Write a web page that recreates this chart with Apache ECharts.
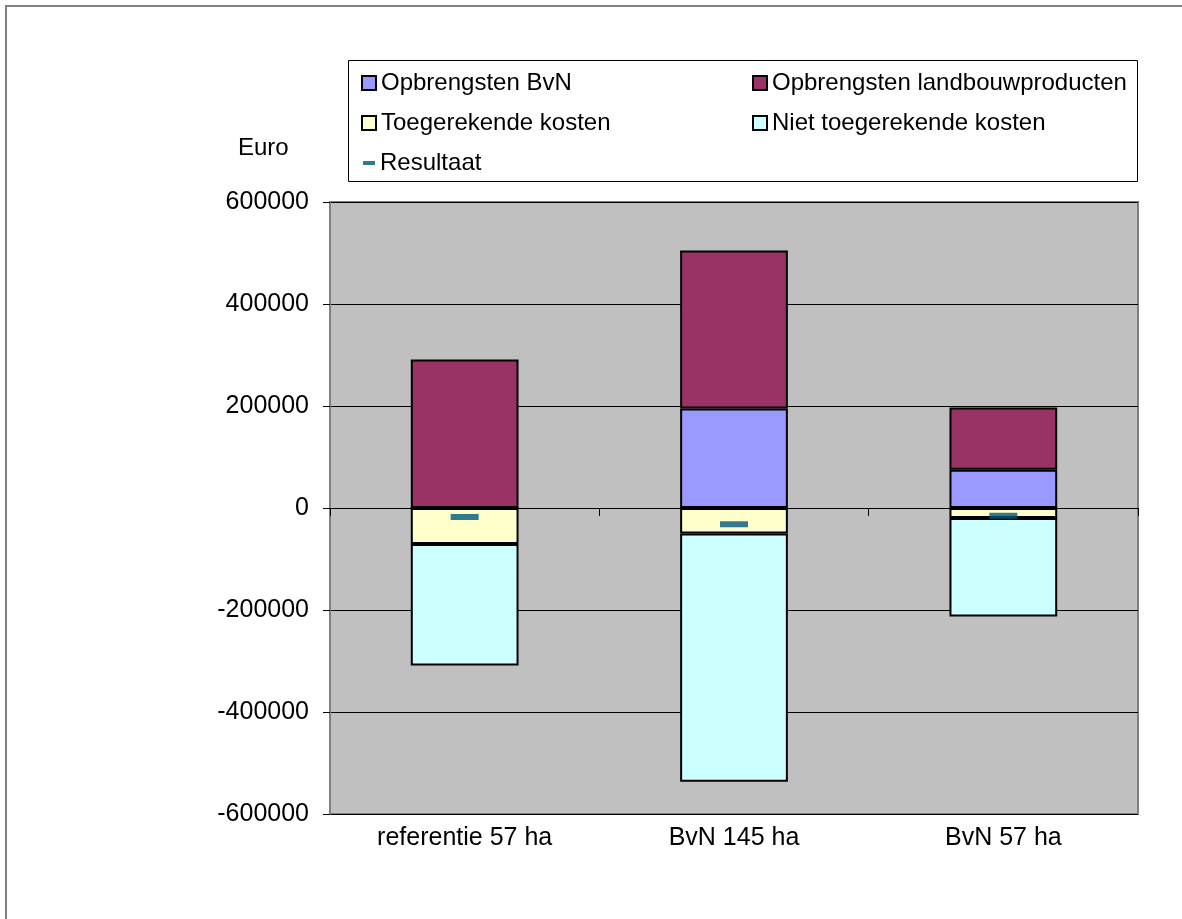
<!DOCTYPE html>
<html>
<head>
<meta charset="utf-8">
<script src="https://cdn.jsdelivr.net/npm/echarts@6/dist/echarts.min.js"></script>
<style>
  html, body { margin: 0; padding: 0; background: #fff; }
  #chart { width: 1182px; height: 919px; }
</style>
</head>
<body>
<div id="chart"></div>
<script>
// categorieen en waarden
var categories = ['referentie 57 ha', 'BvN 145 ha', 'BvN 57 ha']
var opbrengstenBvN = [0, 195000, 75000]
var opbrengstenLandbouw = [291000, 310000, 122000]
var toegerekendeKosten = [-70600, -50200, -19600]
var nietToegerekendeKosten = [-238100, -486800, -193000]
var resultaat = [-17700, -31900, -15200]
var yTicks = { min: -600000, max: 600000, interval: 200000 }

var font = 'Liberation Sans, Arial, sans-serif'
var barBorder = { borderColor: '#000', borderWidth: 2 }
var legendText = { fontSize: 24, lineHeight: 24, color: '#000', fontFamily: font }

function barSeries(name, data, color) {
  return {
    name: name,
    type: 'bar',
    stack: 'totaal',
    barWidth: '40%',
    data: data,
    itemStyle: Object.assign({ color: color }, barBorder)
  }
}

var chart = echarts.init(document.getElementById('chart'))
chart.setOption({
  animation: false,
  backgroundColor: '#fff',
  textStyle: { fontFamily: font },
  graphic: [
    // rand om de hele grafiek
    { type: 'rect', shape: { x: 6, y: 6, width: 1200, height: 1000 },
      style: { fill: 'none', stroke: '#808080', lineWidth: 2 } },
    // kader van de legenda
    { type: 'rect', shape: { x: 348.5, y: 60.5, width: 789, height: 121 },
      style: { fill: '#fff', stroke: '#000', lineWidth: 1 }, z: 0 },
    { type: 'text', left: 238, top: 136,
      style: { text: 'Euro', font: '24px ' + font, fill: '#000' } }
  ],
  legend: [
    { orient: 'vertical', left: 361, top: 71, padding: 0, itemGap: 16, itemWidth: 14, itemHeight: 14,
      icon: 'rect', textStyle: legendText,
      data: ['Opbrengsten BvN', 'Toegerekende kosten'] },
    { orient: 'vertical', left: 752, top: 71, padding: 0, itemGap: 16, itemWidth: 14, itemHeight: 14,
      icon: 'rect', textStyle: legendText,
      data: ['Opbrengsten landbouwproducten', 'Niet toegerekende kosten'] },
    { left: 363, top: 151, padding: 0, itemWidth: 12, itemHeight: 4,
      textStyle: legendText,
      data: [{ name: 'Resultaat', icon: 'rect' }] }
  ],
  grid: {
    left: 330, top: 202, right: 44, bottom: 105,
    show: true, backgroundColor: '#C0C0C0', borderColor: '#808080', borderWidth: 2
  },
  xAxis: [
    {
      type: 'category', data: categories, position: 'bottom',
      axisLine: { show: false, onZero: false },
      axisTick: { show: false },
      axisLabel: { fontSize: 25, color: '#000', fontFamily: font, margin: 12 }
    },
    {
      // as op nul met streepjes tussen de categorieen
      type: 'category', data: categories, position: 'bottom',
      axisLine: { show: true, onZero: true, lineStyle: { color: '#000', width: 1 } },
      axisTick: { show: true, length: 8, lineStyle: { color: '#000' } },
      axisLabel: { show: false }
    }
  ],
  yAxis: {
    type: 'value',
    min: yTicks.min, max: yTicks.max, interval: yTicks.interval,
    axisLine: { show: true, lineStyle: { color: '#808080', width: 2 } },
    axisTick: { show: true, length: 7, lineStyle: { color: '#000' } },
    axisLabel: { fontSize: 25, color: '#000', fontFamily: font, margin: 21,
      formatter: function (v) { return String(v) } },
    splitLine: { show: true, lineStyle: { color: '#000', width: 1 } }
  },
  series: [
    barSeries('Opbrengsten BvN', opbrengstenBvN, '#9999FF'),
    barSeries('Opbrengsten landbouwproducten', opbrengstenLandbouw, '#993366'),
    barSeries('Toegerekende kosten', toegerekendeKosten, '#FFFFCC'),
    barSeries('Niet toegerekende kosten', nietToegerekendeKosten, '#CCFFFF'),
    {
      name: 'Resultaat',
      type: 'scatter',
      data: resultaat,
      symbol: 'rect',
      symbolSize: [28, 6],
      itemStyle: { color: '#00587A' },
      z: 5
    }
  ]
})
</script>
</body>
</html>
